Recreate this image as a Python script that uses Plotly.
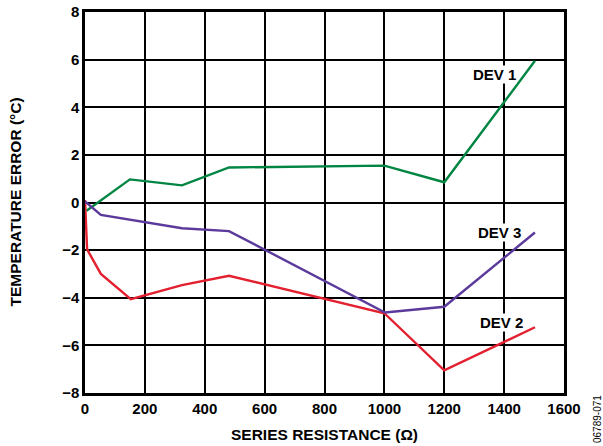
import plotly.graph_objects as go

dev1_x = [5, 150, 324, 481, 1000, 1200, 1503]
dev1_y = [-0.35, 0.97, 0.72, 1.47, 1.55, 0.85, 5.95]

dev2_x = [0, 7, 53, 153, 324, 481, 1000, 1200, 1503]
dev2_y = [0.1, -1.97, -3.0, -4.06, -3.47, -3.08, -4.65, -7.05, -5.24]

dev3_x = [0, 53, 324, 481, 1002, 1200, 1503]
dev3_y = [0.05, -0.52, -1.08, -1.2, -4.62, -4.38, -1.26]

x_ticks = [0, 200, 400, 600, 800, 1000, 1200, 1400, 1600]
y_ticks = [-8, -6, -4, -2, 0, 2, 4, 6, 8]

labels = [("DEV 1", 1369, 5.36), ("DEV 3", 1386, -1.26), ("DEV 2", 1392, -5.06)]

FONT = "Liberation Sans, Arial"

fig = go.Figure()
fig.add_trace(go.Scatter(x=dev1_x, y=dev1_y, mode="lines", line=dict(color="#008542", width=2.4), showlegend=False))
fig.add_trace(go.Scatter(x=dev2_x, y=dev2_y, mode="lines", line=dict(color="#E2202F", width=2.4), showlegend=False))
fig.add_trace(go.Scatter(x=dev3_x, y=dev3_y, mode="lines", line=dict(color="#5B3A9B", width=2.4), showlegend=False))

for t, x, y in labels:
    fig.add_annotation(x=x, y=y, text="<b>%s</b>" % t, showarrow=False,
                       font=dict(family=FONT, size=15, color="black"),
                       bgcolor="white", borderpad=0)

# axis titles
fig.add_annotation(x=0.5, y=0, xref="paper", yref="paper", yanchor="middle", yshift=-41,
                   text="<b>SERIES RESISTANCE (Ω)</b>", showarrow=False,
                   font=dict(family=FONT, size=15.5, color="black"))
fig.add_annotation(x=0, y=0.5, xref="paper", yref="paper", xanchor="center", xshift=-70,
                   text="<b>TEMPERATURE ERROR (°C)</b>", textangle=-90, showarrow=False,
                   font=dict(family=FONT, size=15.5, color="black"))

fig.add_annotation(x=1.0, y=0.0, xref="paper", yref="paper", xanchor="center", yanchor="middle",
                   xshift=33, yshift=-26, text="06789-071", textangle=-90, showarrow=False,
                   font=dict(family=FONT, size=10, color="black"))

fig.update_layout(
    width=603, height=446,
    margin=dict(l=85, r=39, t=12, b=53),
    paper_bgcolor="white", plot_bgcolor="white",
    font=dict(family=FONT, size=15, color="black"),
)
fig.update_xaxes(range=[0, 1600], tickvals=x_ticks, ticktext=["<b>%d</b>" % v for v in x_ticks],
                 showgrid=True, gridcolor="black", gridwidth=1.5, zeroline=False,
                 showline=True, linecolor="black", linewidth=2.5, mirror=True, ticks="",
                 automargin=False, tickfont=dict(size=15))
fig.update_yaxes(range=[-8, 8], tickvals=y_ticks,
                 ticktext=["<b>%s</b>" % (str(v).replace("-", "\u2212")) for v in y_ticks],
                 showgrid=True, gridcolor="black", gridwidth=1.5, zeroline=False,
                 showline=True, linecolor="black", linewidth=2.5, mirror=True, ticks="",
                 automargin=False, tickfont=dict(size=15))

fig.write_html("out.html", config={"displayModeBar": False},
               post_script="document.body.style.margin='0';document.body.style.overflow='hidden';")
